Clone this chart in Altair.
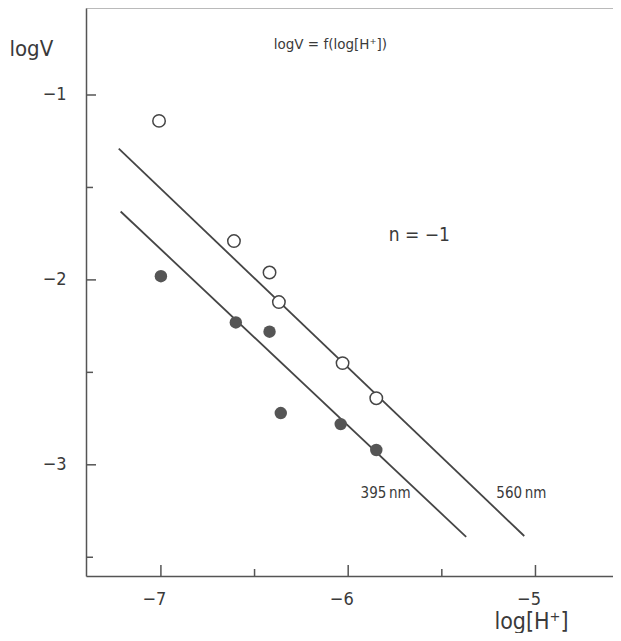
import altair as alt
import pandas as pd

# ---- data ----
open_x = [-7.01, -6.61, -6.42, -6.37, -6.03, -5.85]
open_y = [-1.14, -1.79, -1.96, -2.12, -2.45, -2.64]
filled_x = [-7.00, -6.60, -6.42, -6.36, -6.04, -5.85]
filled_y = [-1.98, -2.23, -2.28, -2.72, -2.78, -2.92]

line560_x = [-7.225, -5.06]
line560_y = [-1.29, -3.385]
line395_x = [-7.215, -5.37]
line395_y = [-1.63, -3.39]

x_major = [-7, -6, -5]
x_minor = [-6.5, -5.5]
y_major = [-1, -2, -3]
y_minor = [-1.5, -2.5, -3.5]

ann_text = ["logV = f(log[H\u207a])", "n = \u22121", "395\u2009nm", "560\u2009nm"]
ann_x = [-6.095, -5.62, -5.80, -5.075]
ann_y = [-0.73, -1.757, -3.15, -3.15]
ann_size = [13.5, 19, 15, 15]

# ---- layout ----
W, H = 527, 568
FONT = "Liberation Sans Narrow, DejaVu Sans Condensed, Roboto Condensed, Liberation Sans, sans-serif"
WIDE = "DejaVu Sans, Liberation Sans, sans-serif"
INK = "#3a3a3a"
LINE = "#454545"

xs = alt.Scale(domain=[-7.4, -4.586], nice=False, zero=False)
ys = alt.Scale(domain=[-3.6014, -0.5295], nice=False, zero=False)

x_axis = alt.Axis(
    values=x_major, format="d", grid=False, ticks=False, tickSize=0,
    domainColor="#555555", domainWidth=1.5,
    labelFont=FONT, labelFontSize=18, labelColor=INK,
    labelPadding=14, labelAlign="right", labelOffset=5,
    title="log[H\u207a]", titleFont=FONT, titleFontSize=23, titleFontWeight="normal",
    titleColor=INK, titleX=445, titleY=52, titleAlign="center", titleBaseline="alphabetic",
)
y_axis = alt.Axis(
    values=y_major, format="d", grid=False, ticks=False, tickSize=0,
    domainColor="#555555", domainWidth=1.5,
    labelFont=FONT, labelFontSize=18, labelColor=INK, labelPadding=20,
    title="logV", titleFont=FONT, titleFontSize=22, titleFontWeight="normal",
    titleColor=INK, titleAngle=0, titleX=-77, titleY=40,
    titleAlign="left", titleBaseline="middle",
)

lines_df = pd.DataFrame({
    "x": line560_x + line395_x,
    "y": line560_y + line395_y,
    "s": ["560"] * 2 + ["395"] * 2,
})
open_df = pd.DataFrame({"x": open_x, "y": open_y})
filled_df = pd.DataFrame({"x": filled_x, "y": filled_y})
ann_df = pd.DataFrame({"t": ann_text, "x": ann_x, "y": ann_y, "fs": ann_size})

lines = alt.Chart(lines_df).mark_line(color=LINE, strokeWidth=1.8).encode(
    x=alt.X("x:Q", scale=xs, axis=x_axis),
    y=alt.Y("y:Q", scale=ys, axis=y_axis),
    detail="s:N",
)

opens = alt.Chart(open_df).mark_point(
    shape="circle", filled=True, fill="white", stroke=LINE, strokeWidth=1.5,
    size=155, opacity=1,
).encode(
    x=alt.X("x:Q", scale=xs, axis=x_axis),
    y=alt.Y("y:Q", scale=ys, axis=y_axis),
)

filled = alt.Chart(filled_df).mark_circle(size=155, color="#555555", opacity=1).encode(
    x=alt.X("x:Q", scale=xs, axis=x_axis),
    y=alt.Y("y:Q", scale=ys, axis=y_axis),
)

title_df = ann_df.iloc[:1]
label_df = ann_df.iloc[1:]

title_txt = alt.Chart(title_df).mark_text(font=WIDE, color=INK, align="center", baseline="middle").encode(
    x=alt.X("x:Q", scale=xs, axis=x_axis),
    y=alt.Y("y:Q", scale=ys, axis=y_axis),
    text="t:N",
    size=alt.Size("fs:Q", scale=None, legend=None),
)

texts = alt.Chart(label_df).mark_text(font=FONT, color=INK, align="center", baseline="middle").encode(
    x=alt.X("x:Q", scale=xs, axis=x_axis),
    y=alt.Y("y:Q", scale=ys, axis=y_axis),
    text="t:N",
    size=alt.Size("fs:Q", scale=None, legend=None),
)

def xtick(vals, length):
    return alt.Chart(pd.DataFrame({"v": vals})).mark_rule(color="#555555", strokeWidth=1.5).encode(
        x=alt.X("v:Q", scale=xs, axis=x_axis),
        y=alt.value(H),
        y2=alt.value(H - length),
    )

def ytick(vals, length):
    return alt.Chart(pd.DataFrame({"v": vals})).mark_rule(color="#555555", strokeWidth=1.5).encode(
        y=alt.Y("v:Q", scale=ys, axis=y_axis),
        x=alt.value(0),
        x2=alt.value(length),
    )

top_frame = alt.Chart(pd.DataFrame({"v": [0]})).mark_rule(color="#777777", strokeWidth=1).encode(
    x=alt.value(0), x2=alt.value(W), y=alt.value(0)
)

chart = alt.layer(
    top_frame,
    xtick(x_major, 11), xtick(x_minor, 7),
    ytick(y_major, 10), ytick(y_minor, 7),
    lines, filled, opens, title_txt, texts,
).properties(
    width=W, height=H,
    autosize=alt.AutoSizeParams(type="none"),
    padding={"left": 78, "top": 0, "right": 0, "bottom": 57},
    background="white",
).configure_view(stroke=None)

chart.save("out.html", embed_options={"renderer": "svg", "actions": False})
